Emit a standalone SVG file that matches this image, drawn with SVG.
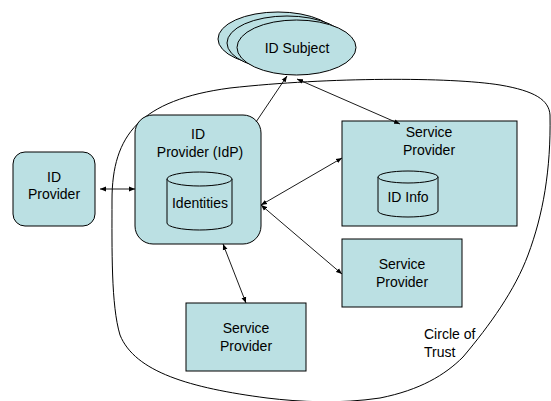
<svg xmlns="http://www.w3.org/2000/svg" width="551" height="401" viewBox="0 0 551 401">
<style>
.n{fill:#BBE0E3;stroke:#000;stroke-width:1}
.t{font-family:"Liberation Sans",Arial,sans-serif;font-size:14px;fill:#000;text-anchor:middle}
.c{stroke:#000;stroke-width:0.9;fill:none}
</style>
<defs>
<marker id="ah" viewBox="0 0 10 10" refX="10" refY="5" markerWidth="6" markerHeight="6" markerUnits="userSpaceOnUse" orient="auto-start-reverse">
<path d="M0,1 L10,5 L0,9 Z" fill="#000"/>
</marker>
</defs>
<rect width="551" height="401" fill="#fff"/>
<g id="circle-of-trust">
<path d="M267,398 C190,388 135,372 120,335 C111,305 112,250 112,200 C112,135 140,100 230,88 C330,77 450,77 500,85 C535,91 549,100 550,115 C551,170 543,215 528,255 C515,290 490,325 463,357 C445,375 420,390 380,398 C340,404 300,402 267,398 Z" fill="none" stroke="#000" stroke-width="1"/>
<text class="t" x="424" y="339" style="text-anchor:start">Circle of</text>
<text class="t" x="424" y="357" style="text-anchor:start">Trust</text>
</g>
<g id="id-subject">
<ellipse class="n" cx="278" cy="39" rx="60" ry="27"/>
<ellipse class="n" cx="287" cy="43" rx="60" ry="27"/>
<ellipse class="n" cx="296.5" cy="47.5" rx="59.5" ry="27.5"/>
<text class="t" x="297" y="53">ID Subject</text>
</g>
<g id="id-provider">
<rect class="n" x="13" y="152" width="82" height="74" rx="12"/>
<text class="t" x="54" y="182">ID</text>
<text class="t" x="54" y="199">Provider</text>
</g>
<g id="idp">
<rect class="n" x="135" y="115" width="126" height="129" rx="18"/>
<text class="t" x="198" y="139">ID</text>
<text class="t" x="200" y="157">Provider (IdP)</text>
<g id="identities">
<path class="n" d="M167,179 L167,223 A32.5,7 0 0 0 232,223 L232,179"/>
<ellipse class="n" cx="199.5" cy="179" rx="32.5" ry="7"/>
<text class="t" x="200" y="208">Identities</text>
</g>
</g>
<g id="sp1">
<rect class="n" x="342" y="121" width="175" height="105"/>
<text class="t" x="429" y="137">Service</text>
<text class="t" x="429" y="155">Provider</text>
<g id="id-info">
<path class="n" d="M378,177 L378,211 A30,6 0 0 0 438,211 L438,177"/>
<ellipse class="n" cx="408" cy="177" rx="30" ry="6"/>
<text class="t" x="408" y="202">ID Info</text>
</g>
</g>
<g id="sp2">
<rect class="n" x="342" y="239" width="120" height="68"/>
<text class="t" x="402" y="269">Service</text>
<text class="t" x="402" y="287">Provider</text>
</g>
<g id="sp3">
<rect class="n" x="186" y="303" width="120" height="68"/>
<text class="t" x="246" y="333">Service</text>
<text class="t" x="246" y="351">Provider</text>
</g>
<g id="connectors">
<line class="c" x1="100" y1="189" x2="135" y2="189" marker-start="url(#ah)" marker-end="url(#ah)"/>
<line class="c" x1="256" y1="122" x2="287" y2="76" marker-end="url(#ah)"/>
<line class="c" x1="297" y1="79" x2="400" y2="124" marker-start="url(#ah)" marker-end="url(#ah)"/>
<line class="c" x1="261" y1="205" x2="342" y2="158" marker-start="url(#ah)" marker-end="url(#ah)"/>
<line class="c" x1="261" y1="205" x2="342" y2="274" marker-start="url(#ah)" marker-end="url(#ah)"/>
<line class="c" x1="223" y1="244" x2="246" y2="303" marker-start="url(#ah)" marker-end="url(#ah)"/>
</g>
</svg>
